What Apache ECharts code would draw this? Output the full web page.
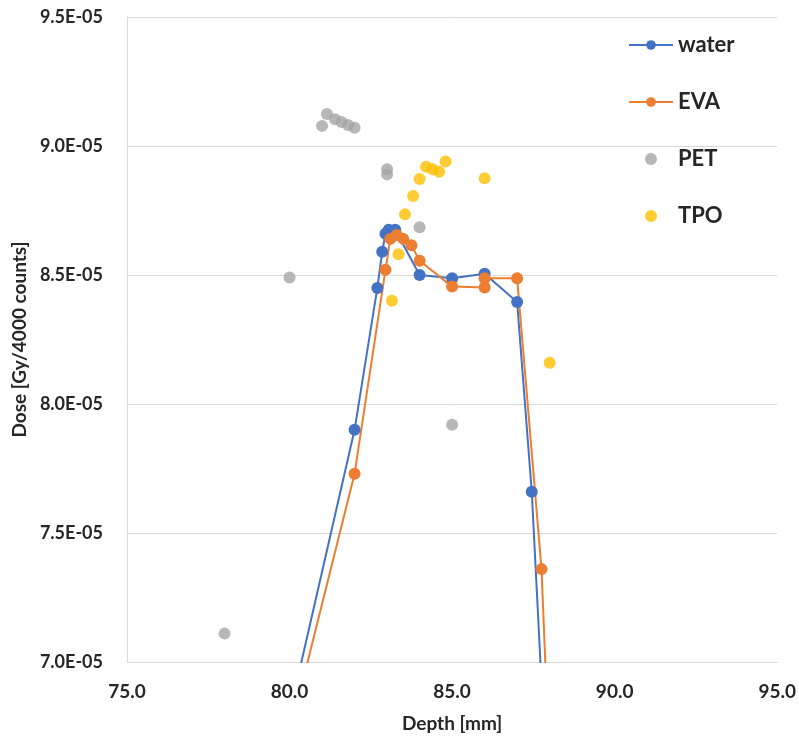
<!DOCTYPE html>
<html>
<head>
<meta charset="utf-8">
<script src="https://cdn.jsdelivr.net/npm/echarts@6/dist/echarts.min.js"></script>
<style>
  html, body { margin: 0; padding: 0; background: #fff; }
  #chart { width: 799px; height: 741px; }
</style>
</head>
<body>
<div id="chart"></div>
<script>
// depth in mm, dose in units of 1E-05 Gy/4000 counts
const waterDepth = [80.0, 82.0, 82.7, 82.85, 82.95, 83.05, 83.25, 84.0, 85.0, 86.0, 87.0, 87.45, 88.0];
const waterDose = [6.80, 7.90, 8.45, 8.59, 8.66, 8.675, 8.675, 8.50, 8.487, 8.505, 8.395, 7.66, 6.30];

const evaDepth = [80.0, 82.0, 82.95, 83.1, 83.3, 83.5, 83.75, 84.0, 85.0, 86.0, 86.0, 87.0, 87.75, 88.0];
const evaDose = [6.72, 7.73, 8.52, 8.64, 8.655, 8.64, 8.615, 8.555, 8.455, 8.452, 8.487, 8.487, 7.36, 6.59];

const petDepth = [78.0, 80.0, 81.0, 81.15, 81.4, 81.6, 81.8, 82.0, 83.0, 83.0, 84.0, 85.0];
const petDose = [7.11, 8.49, 9.078, 9.124, 9.104, 9.093, 9.081, 9.071, 8.91, 8.89, 8.685, 7.92];

const tpoDepth = [83.15, 83.35, 83.55, 83.8, 84.0, 84.2, 84.4, 84.6, 84.8, 86.0, 88.0];
const tpoDose = [8.40, 8.58, 8.735, 8.806, 8.872, 8.92, 8.91, 8.90, 8.94, 8.875, 8.16];

const pairs = (xs, ys) => xs.map((x, i) => [x, ys[i] * 1e-5]);

const font = 'Lato, "Open Sans", sans-serif';
const textColor = '#262626';
const gridColor = '#d9d9d9';

const fmtSci = (v) => v.toExponential(1).toUpperCase().replace(/E([+-])(\d)$/, 'E$10$2');

const chart = echarts.init(document.getElementById('chart'));
chart.setOption({
  animation: false,
  grid: { left: 127, right: 19, top: 17, bottom: 79 },
  legend: {
    orient: 'vertical',
    left: 623,
    top: 29,
    itemWidth: 44,
    itemHeight: 12,
    itemGap: 35,
    textStyle: { fontFamily: font, fontWeight: 'bold', fontSize: 22, color: textColor },
    data: ['water', 'EVA', 'PET', 'TPO'],
  },
  xAxis: {
    type: 'value',
    min: 75,
    max: 95,
    interval: 5,
    name: 'Depth [mm]',
    nameLocation: 'middle',
    nameGap: 52,
    nameTextStyle: { fontFamily: font, fontWeight: 'bold', fontSize: 19, color: textColor },
    axisLine: { show: true, lineStyle: { color: gridColor } },
    axisTick: { show: false },
    splitLine: { show: false },
    axisLabel: {
      margin: 20,
      fontFamily: font,
      fontWeight: 'bold',
      fontSize: 19,
      color: textColor,
      formatter: (v) => v.toFixed(1),
    },
  },
  yAxis: {
    type: 'value',
    min: 7.0e-5,
    max: 9.5e-5,
    interval: 0.5e-5,
    name: 'Dose [Gy/4000 counts]',
    nameLocation: 'middle',
    nameGap: 95,
    nameTextStyle: { fontFamily: font, fontWeight: 'bold', fontSize: 19, color: textColor },
    axisLine: { show: true, lineStyle: { color: gridColor } },
    axisTick: { show: false },
    splitLine: { show: true, lineStyle: { color: gridColor, width: 1 } },
    axisLabel: {
      margin: 24,
      fontFamily: font,
      fontWeight: 'bold',
      fontSize: 18,
      color: textColor,
      formatter: fmtSci,
    },
  },
  series: [
    {
      name: 'water',
      type: 'line',
      data: pairs(waterDepth, waterDose),
      symbol: 'circle',
      symbolSize: 12,
      lineStyle: { color: '#4472c4', width: 2 },
      itemStyle: { color: '#4472c4' },
    },
    {
      name: 'EVA',
      type: 'line',
      data: pairs(evaDepth, evaDose),
      symbol: 'circle',
      symbolSize: 12,
      lineStyle: { color: '#ed7d31', width: 2 },
      itemStyle: { color: '#ed7d31' },
    },
    {
      name: 'PET',
      type: 'scatter',
      data: pairs(petDepth, petDose),
      symbol: 'circle',
      symbolSize: 12,
      itemStyle: { color: '#a5a5a5' },
    },
    {
      name: 'TPO',
      type: 'scatter',
      data: pairs(tpoDepth, tpoDose),
      symbol: 'circle',
      symbolSize: 12,
      itemStyle: { color: '#ffc000' },
    },
  ],
});
</script>
</body>
</html>
